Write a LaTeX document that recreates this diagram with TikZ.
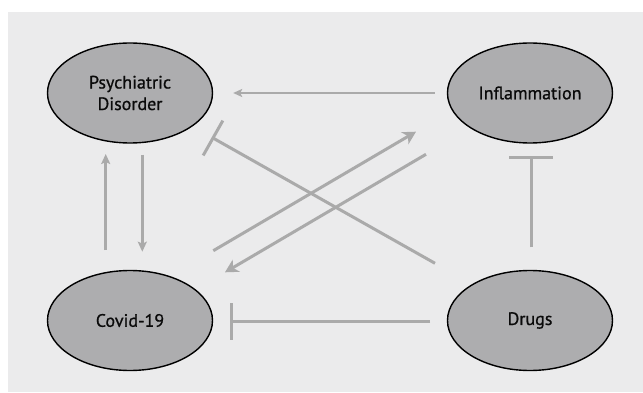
\documentclass[tikz,border=0pt]{standalone}
\usepackage{fontspec}
\setmainfont{PT Sans}
\newfontfamily\labelfont[FakeBold=0.8]{PT Sans}
\usetikzlibrary{shapes.geometric,arrows.meta,calc}
\definecolor{panelgray}{HTML}{EBEBEC}
\definecolor{nodegray}{HTML}{ADADAF}
\definecolor{linegray}{HTML}{AAAAAA}
\definecolor{textblack}{HTML}{0A0A0A}
\tikzset{
  bubble/.style={ellipse,draw=black,line width=1.4pt,fill=nodegray,
    minimum width=165pt,minimum height=100pt,inner sep=0pt,align=center,
    text=textblack,font=\labelfont\fontsize{18}{21.5}\selectfont},
  conn/.style={draw=linegray,line width=3pt},
  arr/.style={conn,-{Stealth[length=10pt,width=9pt,inset=2pt]}},
  bigarr/.style={conn,-{Stealth[length=13pt,width=14pt,inset=4pt]}},
  harr/.style={conn,line width=2.6pt,-{Stealth[length=9pt,width=8pt,inset=2pt]}},
  inhib/.style={conn,-{Bar[width=#1]}},
}
\begin{document}
\begin{tikzpicture}[x=1pt,y=-1pt]
\useasboundingbox (0,0) rectangle (643,393);
\fill[panelgray] (8,12) rectangle (643,392);

\node[bubble] (psy) at (130,93) {Psychiatric\\Disorder};
\node[bubble] (infl) at (530,93) {Inflammation};
\node[bubble] (covid) at (130,320.5) {Covid-19};
\node[bubble] (drugs) at (530,320.5) {Drugs};

% Inflammation -> Psychiatric Disorder
\draw[harr,shorten <=12pt,shorten >=20pt] (infl.west) -- (psy.east);

% Drugs -| Psychiatric Disorder
\coordinate (dp1) at ($(drugs)+(-95,-57.2)$);
\coordinate (dp2) at ($(psy)+(81.7,44.3)$);
\draw[inhib=40pt] (dp1) -- (dp2);

% Covid-19 -> Inflammation
\coordinate (ci1) at ($(covid)+(83.3,-69.8)$);
\coordinate (ci2) at ($(infl)+(-114,38.7)$);
\draw[bigarr] (ci1) -- (ci2);

% Inflammation -> Covid-19
\coordinate (ic1) at ($(infl)+(-104,61.3)$);
\coordinate (ic2) at ($(covid)+(95,-48.2)$);
\draw[bigarr] (ic1) -- (ic2);

% Covid-19 -> Psychiatric Disorder
\coordinate (cp1) at ($(covid)+(-24.3,-70.5)$);
\coordinate (cp2) at ($(psy)+(-24.3,61)$);
\draw[arr] (cp1) -- (cp2);

% Psychiatric Disorder -> Covid-19
\coordinate (pc1) at ($(psy)+(12.3,62)$);
\coordinate (pc2) at ($(covid)+(12.3,-68.8)$);
\draw[arr] (pc1) -- (pc2);

% Drugs -| Inflammation
\coordinate (di1) at ($(drugs)+(1,-73.2)$);
\coordinate (di2) at ($(infl)+(1,62.7)$);
\draw[inhib=44pt] (di1) -- (di2);

% Drugs -| Covid-19
\coordinate (dc1) at ($(drugs)+(-100,0.8)$);
\coordinate (dc2) at ($(covid)+(100.3,0.8)$);
\draw[inhib=37pt] (dc1) -- (dc2);
\end{tikzpicture}
\end{document}
